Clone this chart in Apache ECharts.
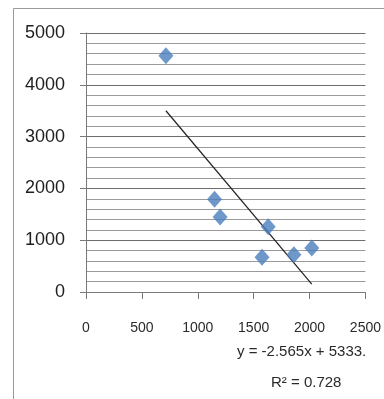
<!DOCTYPE html>
<html>
<head>
<meta charset="utf-8">
<script src="https://cdn.jsdelivr.net/npm/echarts@6/dist/echarts.min.js"></script>
<style>
  html, body { margin: 0; padding: 0; background: #fff; }
  #chart { width: 384px; height: 399px; }
</style>
</head>
<body>
<div id="chart"></div>
<script>
// scatter points
const xValues = [715, 1150, 1200, 1630, 1575, 1860, 2020];
const yValues = [4560, 1790, 1450, 1260, 670, 720, 850];
// linear trend (from the label on the chart)
const slope = -2.565;
const intercept = 5333;
const equationText = "y = -2.565x + 5333.";
const r2Text = "R² = 0.728";
const xTicks = [0, 500, 1000, 1500, 2000, 2500];
const yTicks = [0, 1000, 2000, 3000, 4000, 5000];

const points = xValues.map((x, i) => [x, yValues[i]]);
const xMin = Math.min(...xValues);
const xMax = Math.max(...xValues);
const trend = [[xMin, slope * xMin + intercept], [xMax, slope * xMax + intercept]];

const chart = echarts.init(document.getElementById("chart"));
chart.setOption({
  animation: false,
  grid: { left: 86, right: 17, top: 33, bottom: 107 },
  xAxis: {
    type: "value",
    min: xTicks[0],
    max: xTicks[xTicks.length - 1],
    interval: 500,
    axisLine: { show: true, lineStyle: { color: "#7a7a7a" } },
    axisTick: { show: true, length: 7, lineStyle: { color: "#7a7a7a" } },
    axisLabel: {
      margin: 29,
      fontFamily: "Liberation Sans",
      fontSize: 14,
      color: "#2a2a2a",
      formatter: (v) => String(v)
    },
    splitLine: { show: false }
  },
  yAxis: {
    type: "value",
    min: yTicks[0],
    max: yTicks[yTicks.length - 1],
    interval: 1000,
    axisLine: { show: true, lineStyle: { color: "#7a7a7a" } },
    axisTick: { show: true, length: 6, lineStyle: { color: "#7a7a7a" } },
    axisLabel: {
      margin: 21,
      fontFamily: "Liberation Sans",
      fontSize: 18,
      color: "#1e1e1e",
      formatter: (v) => String(v)
    },
    splitLine: { show: true, lineStyle: { color: "#6e6e6e", width: 1 } },
    minorTick: { show: false, splitNumber: 5 },
    minorSplitLine: { show: true, lineStyle: { color: "#9a9a9a", width: 1 } }
  },
  graphic: [
    {
      type: "rect",
      shape: { x: 13.5, y: 8.5, width: 420, height: 420 },
      style: { fill: null, stroke: "#9a9a9a", lineWidth: 1 },
      silent: true
    },
    {
      type: "text",
      left: 237,
      top: 344,
      style: {
        text: equationText,
        font: "15px 'Liberation Sans'",
        fill: "#2a2a2a"
      }
    },
    {
      type: "text",
      left: 271,
      top: 375,
      style: {
        text: r2Text,
        font: "15px 'Liberation Sans'",
        fill: "#2a2a2a"
      }
    }
  ],
  series: [
    {
      type: "line",
      data: trend,
      symbol: "none",
      lineStyle: { color: "#222", width: 1.2 },
      z: 3
    },
    {
      type: "scatter",
      data: points,
      symbol: "diamond",
      symbolSize: [15, 17],
      itemStyle: { color: "#4a7ebb" },
      z: 4
    }
  ]
});
</script>
</body>
</html>
